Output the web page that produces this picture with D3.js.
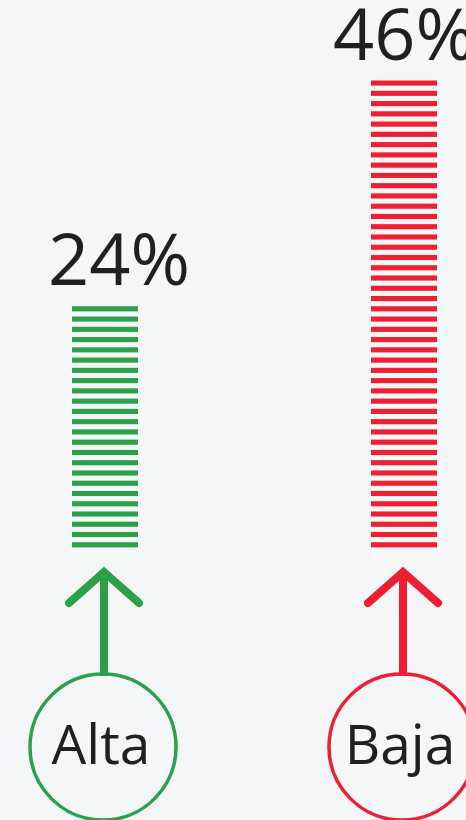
<!DOCTYPE html>
<html>
<head>
<meta charset="utf-8">
<script src="https://cdn.jsdelivr.net/npm/d3@7"></script>
<style>
	html, body { margin: 0; padding: 0; background: #f4f6f8; }
	svg { display: block; }
</style>
</head>
<body>
<div id="chart"></div>
<script>
// data
var categories = ["Alta", "Baja"]
var values = [24, 46]
var labels = ["24%", "46%"]
var colors = ["#2ca14a", "#ef1f32"]

var width = 466
var height = 820
var barWidth = 66
var fontFamily = "'Open Sans', 'DejaVu Sans', sans-serif"

var svg = d3.select("#chart")
	.append("svg")
	.attr("width", width)
	.attr("height", height)

svg.append("rect")
	.attr("width", width)
	.attr("height", height)
	.style("fill", "#f4f6f8")

var x = d3.scalePoint().domain(categories).range([105, 404])
// one stripe per percent point
var y = d3.scaleLinear().domain([0, 46]).range([552.5, 80.5])
var stripe = (y(0) - y(1)) * 0.5

var groups = svg.selectAll("g.cat")
	.data(categories)
	.enter().append("g")
	.attr("class", "cat")

groups.each(function (c, i) {
	var g = d3.select(this)
	var cx = x(c)
	var stripes = d3.range(values[i])

	g.selectAll("rect.stripe")
		.data(stripes)
		.enter().append("rect")
		.attr("class", "stripe")
		.attr("x", cx - barWidth / 2)
		.attr("y", function (d) { return y(d + 1) })
		.attr("width", barWidth)
		.attr("height", stripe)
		.style("fill", colors[i])

	g.append("text")
		.attr("x", cx + (i == 0 ? 14 : 0))
		.attr("y", y(values[i]) - 21)
		.attr("text-anchor", "middle")
		.style("font-family", fontFamily)
		.style("font-size", "72px")
		.style("fill", "#231f20")
		.text(labels[i])

	// arrow
	var tipY = 572
	g.append("line")
		.attr("x1", cx - 1).attr("x2", cx - 1)
		.attr("y1", tipY + 2).attr("y2", 676)
		.style("stroke", colors[i])
		.style("stroke-width", 8)
	g.append("path")
		.attr("d", "M" + (cx - 36) + "," + (tipY + 31) + "L" + (cx - 1) + "," + tipY + "L" + (cx + 34) + "," + (tipY + 31))
		.style("fill", "none")
		.style("stroke", colors[i])
		.style("stroke-width", 8)
		.style("stroke-linecap", "round")
		.style("stroke-linejoin", "miter")

	// circle label
	g.append("circle")
		.attr("cx", cx - 2)
		.attr("cy", 747)
		.attr("r", 73)
		.style("fill", "none")
		.style("stroke", colors[i])
		.style("stroke-width", 3.5)

	g.append("text")
		.attr("x", cx - 4)
		.attr("y", 764)
		.attr("text-anchor", "middle")
		.style("font-family", fontFamily)
		.style("font-size", "55px")
		.style("fill", "#231f20")
		.text(c)
})
</script>
</body>
</html>
